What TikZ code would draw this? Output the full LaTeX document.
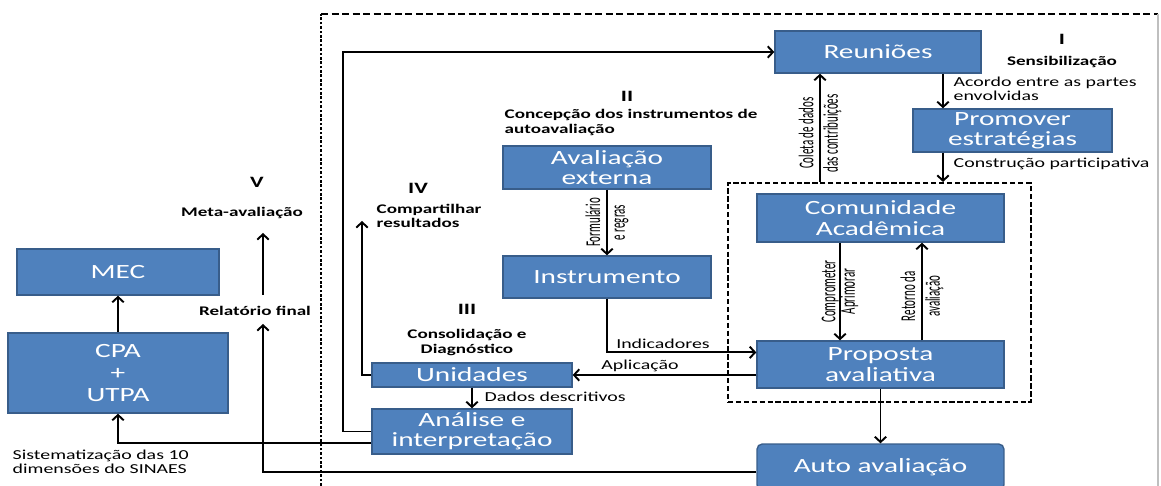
\documentclass[tikz,border=0pt]{standalone}
\usepackage{fontspec}
\setmainfont{Carlito}
\newfontfamily\widefont[FakeStretch=1.45]{Carlito}
\newfontfamily\rotfont[FakeStretch=0.52]{Carlito}
\usetikzlibrary{arrows.meta,calc}
\definecolor{boxblue}{HTML}{4F81BD}
\definecolor{boxedge}{HTML}{385D8A}

\begin{document}
\begin{tikzpicture}[x=0.02cm,y=-0.02cm,>={Straight Barb[length=3pt,width=6.5pt]},line width=1.1pt,
  blk/.style={draw=boxedge,line width=0.8pt,fill=boxblue,text=white,align=center,inner sep=0pt,font=\widefont\fontsize{11.5}{11.5}\selectfont},
  lbl/.style={align=left,inner sep=1pt,font=\widefont\fontsize{7.8}{8}\selectfont},
  hdr/.style={align=left,inner sep=1pt,font=\widefont\bfseries\fontsize{7.5}{8}\selectfont},
  num/.style={inner sep=0pt,font=\widefont\bfseries\fontsize{9}{9}\selectfont},
  vlbl/.style={rotate=90,align=center,inner sep=0pt,font=\rotfont\fontsize{12}{14}\selectfont},
  grpbox/.style={draw,dash pattern=on 3pt off 1.5pt,line width=1.2pt,inner sep=0pt}]
\useasboundingbox (0,0) rectangle (1161,486);
\draw[dash pattern=on 1.5pt off 1pt,line width=1.3pt] (321,490) -- (321,14);
\draw[dash pattern=on 4pt off 2pt] (321,14) -- (1158,14);
\draw[black!25,line width=0.6pt] (1158,14) -- (1158,490);
\node[grpbox,minimum width=6.06cm,minimum height=4.38cm] (grp) at (879.5,292.5) {};

\node[blk,minimum width=4.12cm,minimum height=0.84cm] (reun) at (878,52) {Reuniões};
\node[blk,minimum width=3.98cm,minimum height=0.86cm] (prom) at (1012.5,130.5) {Promover\\estratégias};
\node[blk,minimum width=4.94cm,minimum height=0.96cm] (comu) at (880.5,218) {Comunidade\\Acadêmica};
\node[blk,minimum width=4.94cm,minimum height=0.94cm] (prop) at (880.5,364.5) {Proposta\\avaliativa};
\node[blk,rounded corners=3pt,minimum width=4.94cm,minimum height=0.92cm] (auto) at (880.5,467) {Auto avaliação};
\node[blk,minimum width=4.16cm,minimum height=0.86cm] (aval) at (607,167.5) {Avaliação\\externa};
\node[blk,minimum width=4.16cm,minimum height=0.84cm] (instr) at (607,277) {Instrumento};
\node[blk,minimum width=4cm,minimum height=0.48cm] (unid) at (472,375) {Unidades};
\node[blk,minimum width=4cm,minimum height=0.9cm] (anal) at (472,431.5) {Análise e\\interpretação};
\node[blk,minimum width=4.04cm,minimum height=0.92cm] (mec) at (118,272) {MEC};
\node[blk,minimum width=4.4cm,minimum height=1.6cm,font=\widefont\fontsize{11.5}{12.5}\selectfont] (cpa) at (118,373) {CPA\\+\\UTPA};

\node[num] (n1) at (1062,39) {I};
\node[hdr] (sens) at (1062,62) {Sensibilização};
\node[lbl,anchor=west] (acor) at (951,88.5) {Acordo entre as partes\\envolvidas};
\node[lbl,anchor=west] (cons) at (951,164) {Construção participativa};
\node[num] (n2) at (627,96) {II};
\node[hdr,anchor=west] (conc) at (502,122.5) {Concepção dos instrumentos de\\autoavaliação};
\node[num] (n4) at (418,188) {IV};
\node[hdr,anchor=west] (comp) at (374,216) {Compartilhar\\resultados};
\node[num] (n3) at (467,309) {III};
\node[hdr,align=center] (cdiag) at (467,342.5) {Consolidação e\\Diagnóstico};
\node[lbl] (indi) at (663,344) {Indicadores};
\node[lbl] (apli) at (640,366) {Aplicação};
\node[lbl,anchor=west] (dado) at (482,397) {Dados descritivos};
\node[num] (n5) at (257,182) {V};
\node[hdr] (meta) at (242,213) {Meta-avaliação};
\node[hdr] (rel) at (255,311) {Relatório final};
\node[lbl,anchor=west] (sist) at (10,462) {Sistematização das 10\\dimensões do SINAES};

\coordinate (fr) at (343,52);
\coordinate (share) at (362,221);
\coordinate (relin) at (263,324);
\coordinate (relout) at (263,295);
\coordinate (metain) at (263,233);

\draw[->] (anal.west) -| (fr) -- (reun.west);
\draw[->] (unid.west) -| (share);
\draw[->] ([xshift=1.3cm]reun.south) -- ([xshift=1.3cm]reun.south |- prom.north);
\draw[->] ([xshift=-1.39cm]prom.south) -- ([xshift=-1.39cm]prom.south |- grp.north);
\draw[->] ([xshift=-1.16cm]reun.south |- grp.north) -- ([xshift=-1.16cm]reun.south)
  node[vlbl,pos=0.45] {Coleta de dados\\das contribuições};
\draw[->] ([xshift=-0.81cm]comu.south) -- ([xshift=-0.81cm]prop.north)
  node[vlbl,pos=0.5,font=\rotfont\fontsize{12}{11}\selectfont] {Comprometer\\Aprimorar};
\draw[->] ([xshift=0.83cm]prop.north) -- ([xshift=0.83cm]comu.south)
  node[vlbl,pos=0.45] {Retorno da\\avaliação};
\draw[->] (prop) -- (auto);
\draw[->] (aval) -- (instr) node[vlbl,midway] {Formulário\\e regras};
\draw[->] (instr.south) |- ($(prop.north west)!.25!(prop.south west)$);
\draw[->] (prop.west |- unid.east) -- (unid.east);
\draw[->] (unid) -- (anal);
\draw[->] ($(anal.north west)!.75!(anal.south west)$) -| (cpa.south);
\draw[->] (cpa) -- (mec);
\draw[->] ([yshift=-0.1cm]auto.west) -| (relin);
\draw[->] (relout) -- (metain);
\end{tikzpicture}
\end{document}
